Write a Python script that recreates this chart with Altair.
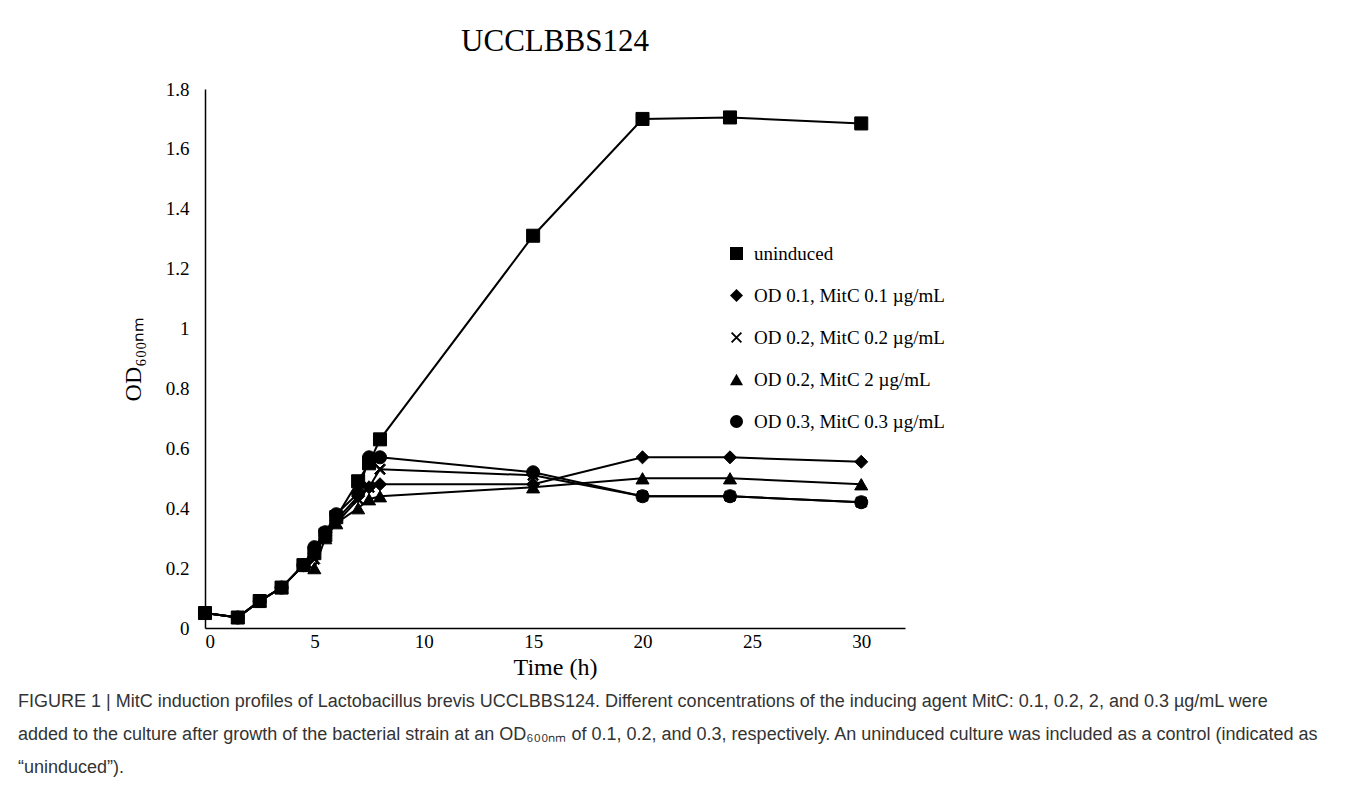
import pandas as pd
import altair as alt

time = [0, 1.5, 2.5, 3.5, 4.5, 5, 5.5, 6, 7, 7.5, 8, 15, 20, 24, 30]
uninduced = [0.05, 0.035, 0.09, 0.135, 0.21, 0.25, 0.31, 0.37, 0.49, 0.55, 0.63, 1.31, 1.70, 1.705, 1.685]
od01 = [0.05, 0.035, 0.09, 0.135, 0.21, 0.25, 0.31, 0.36, 0.44, 0.47, 0.48, 0.48, 0.57, 0.57, 0.555]
od02_02 = [0.05, 0.035, 0.09, 0.135, 0.21, 0.23, 0.32, 0.35, 0.43, 0.47, 0.53, 0.51, 0.44, 0.44, 0.42]
od02_2 = [0.05, 0.035, 0.09, 0.135, 0.21, 0.20, 0.30, 0.35, 0.40, 0.43, 0.44, 0.47, 0.50, 0.50, 0.48]
od03 = [0.05, 0.035, 0.09, 0.135, 0.21, 0.27, 0.32, 0.38, 0.45, 0.57, 0.57, 0.52, 0.44, 0.44, 0.42]

series = ["uninduced", "OD 0.1, MitC 0.1 µg/mL", "OD 0.2, MitC 0.2 µg/mL",
          "OD 0.2, MitC 2 µg/mL", "OD 0.3, MitC 0.3 µg/mL"]
values = [uninduced, od01, od02_02, od02_2, od03]
x_shape = "M-0.85,-0.65L-0.65,-0.85L0.85,0.65L0.65,0.85Z M0.65,-0.85L0.85,-0.65L-0.65,0.85L-0.85,0.65Z"
shapes = ["square", "diamond", x_shape, "triangle-up", "circle"]

rows = []
for name, vals in zip(series, values):
    for t, v in zip(time, vals):
        rows.append({"Time": t, "OD": v, "Series": name})
df = pd.DataFrame(rows)

serif = "Liberation Serif"
x = alt.X("Time:Q", title="Time (h)", scale=alt.Scale(domain=[0, 32], nice=False),
          axis=alt.Axis(values=[0, 5, 10, 15, 20, 25, 30], grid=False, ticks=False,
                        labelPadding=4, titlePadding=4))
y = alt.Y("OD:Q", title="OD₆₀₀ₙₘ", scale=alt.Scale(domain=[0, 1.8]),
          axis=alt.Axis(values=[0, 0.2, 0.4, 0.6, 0.8, 1, 1.2, 1.4, 1.6, 1.8], format="~g",
                        grid=False, ticks=False, labelPadding=16, titlePadding=20))

lines = alt.Chart(df).mark_line(color="black", strokeWidth=2).encode(
    x=x, y=y, detail="Series:N")
points = alt.Chart(df).mark_point(filled=True, size=170, strokeWidth=1, opacity=1).encode(
    x=x, y=y,
    shape=alt.Shape("Series:N", sort=series,
                    scale=alt.Scale(domain=series, range=shapes),
                    legend=alt.Legend(title=None, orient="none", legendX=522, legendY=155,
                                      labelFont=serif, labelFontSize=19, labelLimit=0,
                                      labelColor="black", rowPadding=22, labelOffset=8,
                                      symbolSize=170, symbolFillColor="black",
                                      symbolStrokeColor="black", symbolStrokeWidth=1)),
    color=alt.value("black"),
    stroke=alt.value("black"))

main = alt.layer(lines, points).properties(
    width=700, height=539,
    title=alt.TitleParams("UCCLBBS124", font=serif, fontSize=31, fontWeight="normal",
                          color="black", anchor="middle", offset=22))

cap_lines = [
    "FIGURE 1 | MitC induction profiles of Lactobacillus brevis UCCLBBS124. Different concentrations of the inducing agent MitC: 0.1, 0.2, 2, and 0.3 µg/mL were",
    "added to the culture after growth of the bacterial strain at an OD₆₀₀ₙₘ of 0.1, 0.2, and 0.3, respectively. An uninduced culture was included as a control (indicated as",
    "“uninduced”).",
]
cap_df = pd.DataFrame({"line": cap_lines, "row": [0, 1, 2]})
caption = alt.Chart(cap_df).mark_text(align="left", baseline="middle", font="Liberation Sans",
                                      fontSize=18, color="#333").encode(
    text="line:N",
    y=alt.Y("row:O", axis=None),
    x=alt.value(-187)
).properties(width=1000, height=100)

chart = alt.vconcat(main, caption, spacing=6).properties(
    padding={"left": 10, "top": 18, "right": 5, "bottom": 5}
).configure_view(stroke=None).configure_axis(
    labelFont=serif, titleFont=serif, labelFontSize=19, titleFontSize=24,
    titleFontWeight="normal", labelColor="black", titleColor="black",
    domainColor="black", domainWidth=1.5)

chart.save("out.html", embed_options={"renderer": "svg", "actions": False})
